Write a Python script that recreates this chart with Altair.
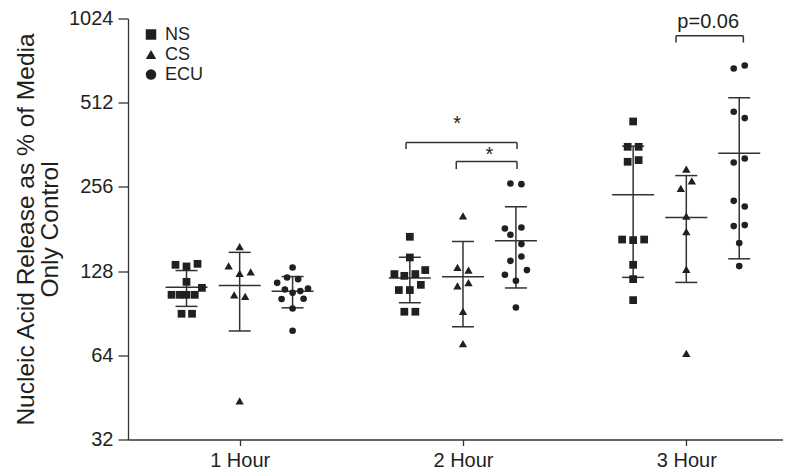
import altair as alt
import pandas as pd

# ---------------- data ----------------
hours = ["1 Hour", "2 Hour", "3 Hour"]
groups = ["NS", "CS", "ECU"]
y_ticks = [32, 64, 128, 256, 512, 1024]

ns_1h = [134.8, 133.0, 135.9, 117.2, 111.5, 105.3, 105.3, 105.3, 105.3, 90.1, 90.1]
cs_1h = [156.7, 133.7, 125.5, 127.3, 105.3, 103.9, 44.0]
ecu_1h = [131.9, 121.4, 119.8, 116.2, 110.0, 107.0, 108.6, 110.9, 101.7, 101.9, 94.1, 78.3]

ns_2h = [169.8, 143.2, 124.9, 123.1, 124.9, 129.1, 114.3, 109.5, 109.5, 91.6, 91.6]
cs_2h = [201.8, 131.9, 129.1, 113.4, 116.5, 91.8, 70.5]
ecu_2h = [263.2, 261.9, 181.8, 183.3, 172.6, 159.9, 139.3, 144.3, 124.2, 129.1, 118.2, 94.9]

ns_3h = [438.7, 356.1, 356.1, 314.8, 319.2, 166.0, 165.2, 166.0, 134.8, 119.8, 100.8]
cs_3h = [296.4, 252.7, 269.2, 201.3, 177.3, 129.7, 65.0]
ecu_3h = [678.4, 695.6, 475.1, 451.0, 313.0, 323.5, 228.3, 217.9, 185.4, 186.9, 161.2, 133.4]

# scatter slots (side-by-side placement of points within a column)
ns_1h_slot = [-1, 0, 1, 0, 1.4, -1.36, -0.6, 0, 0.75, -0.45, 0.5]
cs_1h_slot = [0, -1, 0, 1, -0.5, 0.5, 0]
ecu_1h_slot = [0, -0.5, 0.5, -1.4, -0.7, 0, 0.7, 1.4, -1, 1, 0, 0]
ns_2h_slot = [0, 0, -1.4, -0.5, 0.5, 1.4, 1, -1, 0, -0.5, 0.5]
cs_2h_slot = [0, -0.5, 0.5, -0.5, 0.5, 0, 0]
ecu_2h_slot = [-0.5, 0.5, -1, 0.5, -0.5, 0.5, -0.5, 0.5, -1, 1, 0, 0]
ns_3h_slot = [0, -0.5, 0.5, -0.5, 0.5, -1, 0, 1, 0, 0, 0]
cs_3h_slot = [0, -0.5, 0.5, 0, 0, 0, 0]
ecu_3h_slot = [-0.5, 0.5, -0.5, 0.5, -0.5, 0.5, -0.5, 0.5, -0.5, 0.5, 0, 0]

# significance brackets
br_left = [1.745, 1.970, 2.954]
br_right = [2.242, 2.242, 3.2555]
br_top = [369.0, 315.5, 888.0]
br_bottom = [349.5, 296.4, 840.0]
br_label = ["*", "*", "p=0.06"]
br_label_x = [1.974, 2.118, 3.098]
br_label_y = [408.0, 318.0, 950.0]

# ---------------- build tables ----------------
series = {
    (1, "NS"): (ns_1h, ns_1h_slot), (1, "CS"): (cs_1h, cs_1h_slot), (1, "ECU"): (ecu_1h, ecu_1h_slot),
    (2, "NS"): (ns_2h, ns_2h_slot), (2, "CS"): (cs_2h, cs_2h_slot), (2, "ECU"): (ecu_2h, ecu_2h_slot),
    (3, "NS"): (ns_3h, ns_3h_slot), (3, "CS"): (cs_3h, cs_3h_slot), (3, "ECU"): (ecu_3h, ecu_3h_slot),
}
group_shift = {"NS": -0.238, "CS": 0.0, "ECU": 0.237}
slot_unit = 0.0493

rows = []
for (h, g), (vals, slots) in series.items():
    xc = h + group_shift[g]
    for v, s in zip(vals, slots):
        rows.append({"hour": hours[h - 1], "group": g, "xc": xc, "x": xc + s * slot_unit, "value": v})
df = pd.DataFrame(rows)

br = pd.DataFrame({"x1": br_left, "x2": br_right, "ytop": br_top, "ybot": br_bottom})
lab = pd.DataFrame({"lx": br_label_x, "ly": br_label_y, "label": br_label})

INK = "#231f20"
LINE = "#333333"
FONT = "Liberation Sans"

xs = alt.Scale(domain=[0.5, 3.433], nice=False, zero=False)
ys = alt.Scale(type="log", base=2, domain=[32, 1024], nice=False)

label_expr = "[" + ",".join("'" + h + "'" for h in hours) + "][datum.value - 1]"

x_axis = alt.Axis(
    values=[1, 2, 3], labelExpr=label_expr, title=None, grid=False,
    tickSize=6, labelPadding=5, labelFontSize=20, labelColor=INK,
    domainColor=LINE, tickColor=LINE, domainWidth=1.3, tickWidth=1.3)
y_axis = alt.Axis(
    values=y_ticks, format="d", grid=False,
    title=["Nucleic Acid Release as % of Media", "Only Control"],
    titleFontSize=24.5, titleFontWeight="normal", titleColor=INK, titleLineHeight=24,
    titlePadding=6, tickSize=10, labelPadding=5, labelFontSize=20, labelColor=INK,
    domainColor=LINE, tickColor=LINE, domainWidth=1.3, tickWidth=1.3)

shape_scale = alt.Scale(domain=groups, range=["square", "triangle-up", "circle"])
legend = alt.Legend(title=None, orient="none", legendX=14, legendY=7,
                    symbolSize=110, symbolFillColor=INK, symbolStrokeWidth=0,
                    labelFontSize=18, labelColor=INK, labelOffset=5,
                    rowPadding=2, padding=0)

marker_size = {"NS": 60, "CS": 70, "ECU": 44}


def pts(g):
    return alt.Chart(df).transform_filter(alt.datum.group == g).mark_point(
        filled=True, opacity=1, color=INK, strokeWidth=0, size=marker_size[g]
    ).encode(
        x=alt.X("x:Q", scale=xs, axis=x_axis),
        y=alt.Y("value:Q", scale=ys, axis=y_axis),
        shape=alt.Shape("group:N", scale=shape_scale, legend=legend),
    )


stats = alt.Chart(df).transform_aggregate(
    mean="mean(value)", sd="stdev(value)", groupby=["xc"]
).transform_calculate(hi="datum.mean + datum.sd", lo="datum.mean - datum.sd")

vrule = stats.mark_rule(color=LINE, strokeWidth=1.5).encode(
    x=alt.X("xc:Q", scale=xs, axis=x_axis),
    y=alt.Y("lo:Q", scale=ys, axis=y_axis), y2="hi:Q")
cap_hi = stats.mark_point(shape="M-1,0L1,0", size=484, filled=False, color=LINE, strokeWidth=1.5, opacity=1).encode(
    x=alt.X("xc:Q", scale=xs, axis=x_axis), y=alt.Y("hi:Q", scale=ys, axis=y_axis))
cap_lo = stats.mark_point(shape="M-1,0L1,0", size=484, filled=False, color=LINE, strokeWidth=1.5, opacity=1).encode(
    x=alt.X("xc:Q", scale=xs, axis=x_axis), y=alt.Y("lo:Q", scale=ys, axis=y_axis))
mean_line = stats.mark_point(shape="M-1,0L1,0", size=1764, filled=False, color=LINE, strokeWidth=1.5, opacity=1).encode(
    x=alt.X("xc:Q", scale=xs, axis=x_axis), y=alt.Y("mean:Q", scale=ys, axis=y_axis))

bbase = alt.Chart(br)
b_h = bbase.mark_rule(color=LINE, strokeWidth=1.5).encode(
    x=alt.X("x1:Q", scale=xs, axis=x_axis), x2="x2:Q", y=alt.Y("ytop:Q", scale=ys, axis=y_axis))
b_l = bbase.mark_rule(color=LINE, strokeWidth=1.5).encode(
    x=alt.X("x1:Q", scale=xs, axis=x_axis), y=alt.Y("ytop:Q", scale=ys, axis=y_axis), y2="ybot:Q")
b_r = bbase.mark_rule(color=LINE, strokeWidth=1.5).encode(
    x=alt.X("x2:Q", scale=xs, axis=x_axis), y=alt.Y("ytop:Q", scale=ys, axis=y_axis), y2="ybot:Q")
b_t = alt.Chart(lab).mark_text(fontSize=20, color=INK, baseline="alphabetic", align="center", font=FONT).encode(
    x=alt.X("lx:Q", scale=xs, axis=x_axis), y=alt.Y("ly:Q", scale=ys, axis=y_axis), text="label:N")

chart = alt.layer(vrule, cap_hi, cap_lo, mean_line, pts("NS"), pts("CS"), pts("ECU"),
                  b_h, b_l, b_r, b_t).properties(
    width=655, height=421,
    autosize=alt.AutoSizeParams(type="none"),
    padding={"left": 120, "top": 10.5, "right": 0, "bottom": 34.5},
).configure(font=FONT).configure_view(stroke=None)

chart.save("out.html", embed_options={"renderer": "svg", "actions": False})
